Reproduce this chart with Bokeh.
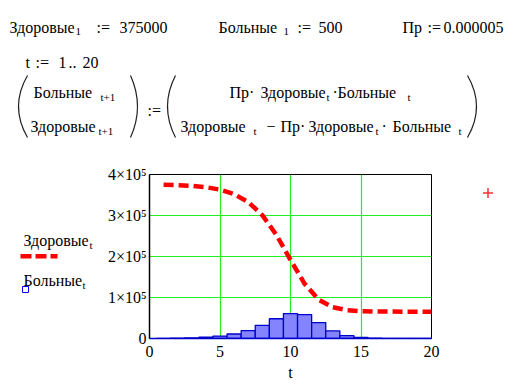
from bokeh.plotting import figure
from bokeh.models import Range1d, FixedTicker
from bokeh.layouts import column, row
from bokeh.embed import file_html
from bokeh.resources import INLINE
from bokeh.core.properties import value

# ---------------- data ----------------
t = list(range(1, 21))
zdorovye = [375000, 374062, 372309, 369045, 363022, 352090, 332845, 300817,
            252643, 191790, 133434, 94501, 76105, 69105, 66686, 65879,
            65614, 65527, 65498, 65489]
bolnye = [500, 938, 1753, 3264, 6023, 10932, 19245, 32028, 48173, 60854,
          58356, 38933, 18396, 7000, 2419, 807, 266, 87, 29, 9]
x_ticks = [0, 5, 10, 15, 20]
y_ticks = [0, 100000, 200000, 300000, 400000]
y_tick_labels = ["0", "1×10⁵", "2×10⁵", "3×10⁵", "4×10⁵"]
series_labels = ["Здоровые", "Больные"]

FONT = "Liberation Serif"
RED = "#ff0000"
BLUE = "#0000cc"
BAR_FILL = "#8484ff"
GREEN = "#22ee22"

W = 519
TOP_H = 150
BOT_H = 235
LEFT_W = 100
CHART_W = 341
RIGHT_W = W - LEFT_W - CHART_W
B_TOP, B_BOTTOM = 24, 47          # chart frame borders inside the bottom row
FRAME_TOP = TOP_H + B_TOP          # page y of the chart frame top
FRAME_BOTTOM = TOP_H + BOT_H - B_BOTTOM


def blank(width, height, xr, yr, mtop=0, mbottom=0):
    f = figure(width=width, height=height, output_backend="svg", toolbar_location=None,
               title=None, x_range=Range1d(*xr), y_range=Range1d(*yr),
               x_axis_location=None, y_axis_location=None, min_border=0,
               min_border_top=mtop, min_border_bottom=mbottom)
    f.grid.visible = False
    f.outline_line_color = None
    f.background_fill_color = "white"
    f.border_fill_color = "white"
    return f


def txt(f, x, y, s, size=16):
    f.text(x=[x], y=[y], text=[s], text_font=value(FONT),
           text_font_size=f"{size}px", text_baseline="alphabetic", text_color="black")


# ---------------- formulas (page coordinates) ----------------
top = blank(W, TOP_H, (0, W), (TOP_H, 0))
txt(top, 9, 27, "Здоровые")
txt(top, 75, 31, "1", 11)
txt(top, 96, 27, ":=")
txt(top, 119, 27, "375000")
txt(top, 218, 27, "Больные")
txt(top, 283, 31, "1", 11)
txt(top, 297, 27, ":=")
txt(top, 318, 27, "500")
txt(top, 402, 27, "Пр")
txt(top, 427, 27, ":=")
txt(top, 443, 27, "0.000005")
txt(top, 25, 62, "t")
txt(top, 35, 62, ":=")
txt(top, 58, 62, "1")
txt(top, 68, 62, "..")
txt(top, 82, 62, "20")
txt(top, 33, 91.5, "Больные")
txt(top, 100, 96, "t+1", 11)
txt(top, 30, 125.5, "Здоровые")
txt(top, 98, 130, "t+1", 11)
txt(top, 147, 110, ":=")
txt(top, 229, 91.5, "Пр·")
txt(top, 260, 91.5, "Здоровые")
txt(top, 326, 96, "t", 11)
txt(top, 332, 91.5, "·")
txt(top, 337, 91.5, "Больные")
txt(top, 407, 96, "t", 11)
txt(top, 180, 125.5, "Здоровые")
txt(top, 253, 130, "t", 11)
txt(top, 266, 125.5, "−")
txt(top, 280, 125.5, "Пр·")
txt(top, 308, 125.5, "Здоровые")
txt(top, 375, 130, "t", 11)
txt(top, 381, 125.5, "·")
txt(top, 392, 125.5, "Больные")
txt(top, 458, 130, "t", 11)

# parentheses (x_end, x_mid)
for xe, xm in [(27, 18), (130, 137), (175, 167), (467, 476)]:
    top.quadratic(x0=[xe], y0=[75], x1=[xe], y1=[137], cx=[2 * xm - xe], cy=[106],
                  line_color="#202020", line_width=1.2)

# ---------------- legend (left; frame aligned with chart frame, page coords) ----------------
left = blank(LEFT_W, BOT_H, (0, LEFT_W), (FRAME_BOTTOM, FRAME_TOP), B_TOP, B_BOTTOM)
txt(left, 23, 240, series_labels[0])
txt(left, 89, 244, "t", 11)
left.line(x=[20, 57], y=[255.7, 255.7], line_color=RED, line_width=4.5, line_dash="11 4")
txt(left, 23, 280, series_labels[1])
txt(left, 82, 284, "t", 11)
left.quad(left=[22], right=[28], top=[286], bottom=[292],
          fill_color=None, line_color="blue", line_width=1)

# ---------------- chart ----------------
p = figure(width=CHART_W, height=BOT_H, output_backend="svg", toolbar_location=None,
           title=None, x_range=Range1d(0, 20), y_range=Range1d(0, 400000),
           min_border_left=49, min_border_right=10, min_border_top=B_TOP,
           min_border_bottom=B_BOTTOM)
p.background_fill_color = "white"
p.border_fill_color = "white"
p.outline_line_color = "black"
p.outline_line_width = 1

p.xgrid.ticker = FixedTicker(ticks=x_ticks)
p.ygrid.ticker = FixedTicker(ticks=y_ticks)
p.grid.grid_line_color = GREEN
p.grid.grid_line_width = 1.2

p.vbar(x=t, top=bolnye, width=1, bottom=0, fill_color=BAR_FILL, line_color=BLUE, line_width=1.3)
p.line(x=t, y=zdorovye, line_color=RED, line_width=4.5, line_dash="10 5")

p.xaxis.ticker = FixedTicker(ticks=x_ticks)
p.yaxis.ticker = FixedTicker(ticks=y_ticks)
p.yaxis.major_label_overrides = {v: s for v, s in zip(y_ticks, y_tick_labels)}
for ax in (p.xaxis[0], p.yaxis[0]):
    ax.major_tick_out = 0
    ax.major_tick_in = 0
    ax.minor_tick_out = 0
    ax.minor_tick_in = 0
    ax.major_label_text_font = FONT
    ax.major_label_text_font_size = "16px"
    ax.major_label_text_color = "black"
p.yaxis.axis_line_color = "black"
p.yaxis.axis_line_width = 1.5
p.yaxis.major_label_standoff = 3
p.xaxis.axis_line_color = BLUE
p.xaxis.axis_line_width = 1.3
p.xaxis.major_label_standoff = 7
p.xaxis.axis_label = "t"
p.xaxis.axis_label_text_font = FONT
p.xaxis.axis_label_text_font_size = "16px"
p.xaxis.axis_label_text_font_style = "normal"
p.xaxis.axis_label_text_color = "black"
p.xaxis.axis_label_standoff = 4

# ---------------- right area (marker; page coords) ----------------
RX = LEFT_W + CHART_W
right = blank(RIGHT_W, BOT_H, (RX, W), (FRAME_BOTTOM, FRAME_TOP), B_TOP, B_BOTTOM)
right.scatter(x=[487.5], y=[192.5], marker="cross", size=10,
              line_color="#f03030", line_width=1.5)

layout = column(top, row(left, p, right))
open("out.html", "w").write(file_html(layout, INLINE))
